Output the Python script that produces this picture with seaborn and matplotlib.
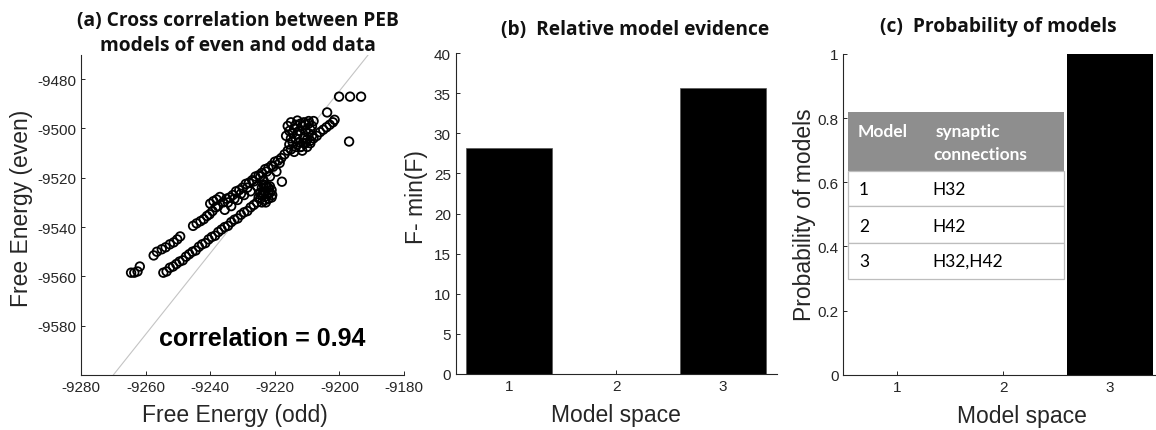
import matplotlib
matplotlib.use("Agg")
import matplotlib.pyplot as plt
import seaborn as sns
import pandas as pd
from matplotlib.patches import Rectangle

# ---------------- data ----------------
# (a) free energy of PEB models, odd vs even halves
odd_upper = [-9264.5, -9263.5, -9262.5, -9261.8,
             -9257.5, -9256.5, -9255.0, -9253.8, -9252.5, -9251.3, -9250.2, -9249.3,
             -9245.3, -9244.2, -9243.0, -9242.0, -9241.0, -9240.2, -9239.3, -9238.3, -9237.6,
             -9240.0, -9239.0, -9238.0, -9237.0,
             -9236.0, -9235.0, -9234.0, -9233.0, -9232.0, -9231.0, -9230.0, -9229.0, -9228.0,
             -9227.0, -9226.0, -9225.0, -9224.0, -9223.0, -9222.0, -9221.0, -9220.0, -9219.0, -9218.0,
             -9235.5, -9233.5, -9231.5, -9229.5, -9227.5, -9225.5, -9223.5, -9221.5, -9219.5,
             -9230.5, -9228.5, -9226.5, -9224.5, -9222.5, -9220.5, -9218.5, -9234.5, -9232.5,
             -9217.0, -9216.0, -9215.5, -9215.0, -9214.5, -9214.0, -9213.5, -9213.0, -9212.5, -9212.0,
             -9211.5, -9211.0, -9210.5, -9210.0, -9209.5, -9209.0, -9208.5, -9208.0, -9211.5, -9213.0,
             -9214.0, -9210.0, -9216.0, -9215.0,
             -9216.5, -9215.5, -9214.5, -9213.5, -9212.5, -9212.0, -9211.0, -9210.5, -9209.5, -9209.0,
             -9208.5, -9213.5, -9215.0, -9211.0, -9209.5,
             -9212.0, -9210.5, -9209.0, -9208.0, -9207.0, -9206.0, -9205.0, -9204.0, -9203.0, -9202.0, -9201.5,
             -9203.8, -9200.1, -9196.7, -9193.3, -9197.0, -9217.8]
even_upper = [-9558.5, -9558.5, -9558.0, -9556.0,
              -9551.5, -9550.0, -9549.0, -9548.2, -9547.0, -9546.2, -9545.0, -9543.8,
              -9539.5, -9538.5, -9537.6, -9536.8, -9535.5, -9534.8, -9533.5, -9532.0, -9531.5,
              -9530.5, -9529.5, -9528.8, -9527.8,
              -9530.0, -9528.5, -9528.0, -9527.0, -9525.5, -9525.0, -9524.0, -9522.5, -9522.0,
              -9521.0, -9519.5, -9519.0, -9518.0, -9516.5, -9516.0, -9515.0, -9513.5, -9513.0, -9512.0,
              -9533.0, -9531.5, -9529.0, -9527.0, -9525.5, -9523.5, -9521.0, -9519.5, -9517.5,
              -9526.5, -9524.0, -9521.5, -9519.5, -9517.5, -9515.5, -9514.0, -9530.0, -9528.5,
              -9510.5, -9509.0, -9506.5, -9504.0, -9502.0, -9500.0, -9498.5, -9502.5, -9505.5, -9507.5,
              -9499.0, -9497.5, -9501.0, -9504.5, -9498.0, -9500.5, -9503.0, -9497.0, -9509.0, -9496.8,
              -9509.5, -9507.5, -9499.0, -9497.5,
              -9503.0, -9501.0, -9505.5, -9504.0, -9501.0, -9498.0, -9503.5, -9498.5, -9502.0, -9506.0,
              -9499.0, -9507.5, -9508.5, -9506.0, -9497.0,
              -9507.5, -9506.0, -9505.0, -9504.0, -9503.0, -9501.5, -9500.5, -9499.5, -9498.5, -9497.5, -9496.5,
              -9493.5, -9487.1, -9487.1, -9487.1, -9505.3, -9521.6]
odd_lower = [-9254.5, -9253.5, -9252.5, -9251.5, -9250.5, -9249.5, -9248.5, -9247.5, -9246.5,
             -9245.5, -9244.5, -9243.5, -9242.5, -9241.5, -9240.5, -9239.5, -9238.5, -9237.5,
             -9236.5, -9235.5, -9234.5, -9233.5, -9232.5, -9231.5, -9230.5, -9229.5, -9228.5,
             -9227.5, -9226.5, -9225.5,
             -9225.0, -9224.5, -9224.0, -9223.5, -9223.0, -9222.5, -9222.0, -9221.5, -9221.0,
             -9220.8, -9223.0, -9224.0, -9222.0,
             -9224.5, -9223.5, -9222.5, -9221.5, -9222.0, -9223.0, -9221.0, -9224.0, -9222.8]
even_lower = [-9558.5, -9558.0, -9556.5, -9556.0, -9555.0, -9554.0, -9553.5, -9552.0, -9551.0,
              -9550.0, -9549.5, -9548.0, -9547.0, -9546.5, -9545.0, -9544.0, -9543.5, -9542.0,
              -9541.0, -9540.0, -9539.5, -9538.0, -9537.0, -9536.5, -9535.0, -9534.0, -9533.5,
              -9532.0, -9531.0, -9530.0,
              -9528.0, -9526.0, -9524.0, -9522.8, -9525.5, -9527.5, -9524.0, -9526.0, -9525.0,
              -9527.0, -9529.0, -9530.0, -9528.5,
              -9528.5, -9526.5, -9523.5, -9523.5, -9526.0, -9523.0, -9528.0, -9527.0, -9530.0]
ref_line_x = [-9270, -9191]
ref_line_y = [-9600, -9470]
correlation_label = "correlation = 0.94"

# (b) relative model evidence
models = ["1", "2", "3"]
rel_evidence = [28.2, 0.0, 35.6]
# (c) posterior probability of models
probability = [0.0, 0.0, 1.0]
prob_ticks = [0, 0.2, 0.4, 0.6, 0.8, 1]
prob_ticklabels = ["0", "0.2", "0.4", "0.6", "0.8", "1"]

table_header = ["Model", "synaptic", "connections"]
table_models = ["1", "2", "3"]
table_connections = ["H32", "H42", "H32,H42"]

# ---------------- style ----------------
sns.set_theme(style="ticks")
plt.rcParams["font.family"] = ["Liberation Sans", "DejaVu Sans"]
plt.rcParams["axes.unicode_minus"] = False
AX_COL = "#262626"
plt.rcParams.update({
    "axes.edgecolor": AX_COL, "axes.linewidth": 0.8,
    "xtick.color": AX_COL, "ytick.color": AX_COL,
    "xtick.direction": "in", "ytick.direction": "in",
    "xtick.major.size": 3, "ytick.major.size": 3,
    "xtick.major.width": 0.7, "ytick.major.width": 0.7,
    "xtick.labelsize": 11, "ytick.labelsize": 11,
    "axes.labelsize": 16.5, "axes.labelcolor": AX_COL,
})
TITLE_FONT = dict(family=["Open Sans", "DejaVu Sans"], weight="bold", size=13.8, color="#111111")

W, H = 1156, 431
fig = plt.figure(figsize=(W / 100, H / 100), dpi=100)

def px_axes(left, top, right, bottom):
    return fig.add_axes([left / W, 1 - bottom / H, (right - left) / W, (bottom - top) / H])

# ---------------- (a) ----------------
axA = px_axes(81, 55.5, 404, 376)
dfA = pd.DataFrame({"odd": odd_upper + odd_lower, "even": even_upper + even_lower})
sns.lineplot(x=ref_line_x, y=ref_line_y, ax=axA, color="#c4c4c4", linewidth=0.8)
sns.scatterplot(data=dfA, x="odd", y="even", ax=axA, marker="o", s=38,
                facecolor="none", edgecolor="black", linewidth=1.3, zorder=3)
axA.set_xlim(-9280, -9180)
axA.set_ylim(-9600, -9470)
axA.set_xticks(range(-9280, -9179, 20))
axA.set_yticks(range(-9580, -9479, 20))
axA.set_xlabel("Free Energy (odd)")
axA.set_ylabel("Free Energy (even)")
axA.xaxis.set_label_coords(0.477, -0.087)
axA.yaxis.set_label_coords(-0.149, 0.524)
axA.text(-9224, -9585, correlation_label, ha="center", va="center",
         fontsize=18, fontweight="bold", color="black")
sns.despine(ax=axA)
fig.text(238 / W, 1 - 21 / H, "(a) Cross correlation between PEB", ha="center", va="center", **TITLE_FONT)
fig.text(238 / W, 1 - 46 / H, "models of even and odd data", ha="center", va="center", **TITLE_FONT)

# ---------------- (b) ----------------
axB = px_axes(455.7, 54, 776.7, 375)
dfB = pd.DataFrame({"model": models, "F": rel_evidence})
sns.barplot(data=dfB, x="model", y="F", ax=axB, color="black", width=0.8,
            saturation=1, edgecolor="#555555", linewidth=0.5)
axB.set_xlim(-0.5, 2.5)
axB.set_ylim(0, 40)
axB.set_yticks(range(0, 41, 5))
axB.set_xlabel("Model space")
axB.set_ylabel("F- min(F)")
axB.xaxis.set_label_coords(0.5, -0.09)
axB.yaxis.set_label_coords(-0.086, 0.555)
sns.despine(ax=axB)
fig.text(635.5 / W, 1 - 30 / H, "(b)  Relative model evidence", ha="center", va="center", **TITLE_FONT)

# ---------------- (c) ----------------
axC = px_axes(843.3, 55, 1163.3, 375.7)
dfC = pd.DataFrame({"model": models, "P": probability})
sns.barplot(data=dfC, x="model", y="P", ax=axC, color="black", width=0.8,
            saturation=1, linewidth=0)
axC.set_xlim(-0.5, 2.5)
axC.set_ylim(0, 1)
axC.set_yticks(prob_ticks)
axC.set_yticklabels(prob_ticklabels)
axC.set_xlabel("Model space")
axC.set_ylabel("Probability of models")
axC.xaxis.set_label_coords(0.558, -0.09)
axC.yaxis.set_label_coords(-0.085, 0.501)
sns.despine(ax=axC)
fig.text(998.5 / W, 1 - 27 / H, "(c)  Probability of models", ha="center", va="center", **TITLE_FONT)

# table inside (c)
tx0, tx1 = 0.0147, 0.69
t_head_top, t_head_bot = 0.819, 0.635
row_bounds = [0.635, 0.526, 0.411, 0.298]
tr = axC.transAxes
axC.add_patch(Rectangle((tx0, t_head_bot), tx1 - tx0, t_head_top - t_head_bot, transform=tr,
                        facecolor="#8e8e8e", edgecolor="none", zorder=4))
for i in range(3):
    axC.add_patch(Rectangle((tx0, row_bounds[i + 1]), tx1 - tx0, row_bounds[i] - row_bounds[i + 1],
                            transform=tr, facecolor="white", edgecolor="#bdbdbd", linewidth=0.9, zorder=4))
CELL_FONT = dict(family=["Lato", "DejaVu Sans"], size=12.5, transform=tr, zorder=5, va="center")
axC.text(0.045, 0.761, table_header[0], color="white", weight="bold", **CELL_FONT)
axC.text(0.29, 0.761, table_header[1], color="white", weight="bold", **CELL_FONT)
axC.text(0.28, 0.688, table_header[2], color="white", weight="bold", **CELL_FONT)
row_centers = [0.579, 0.465, 0.355]
for yc, m, c in zip(row_centers, table_models, table_connections):
    axC.text(0.049, yc, m, color="black", **CELL_FONT)
    axC.text(0.277, yc, c, color="black", **CELL_FONT)

fig.savefig("out.png", dpi=100)
